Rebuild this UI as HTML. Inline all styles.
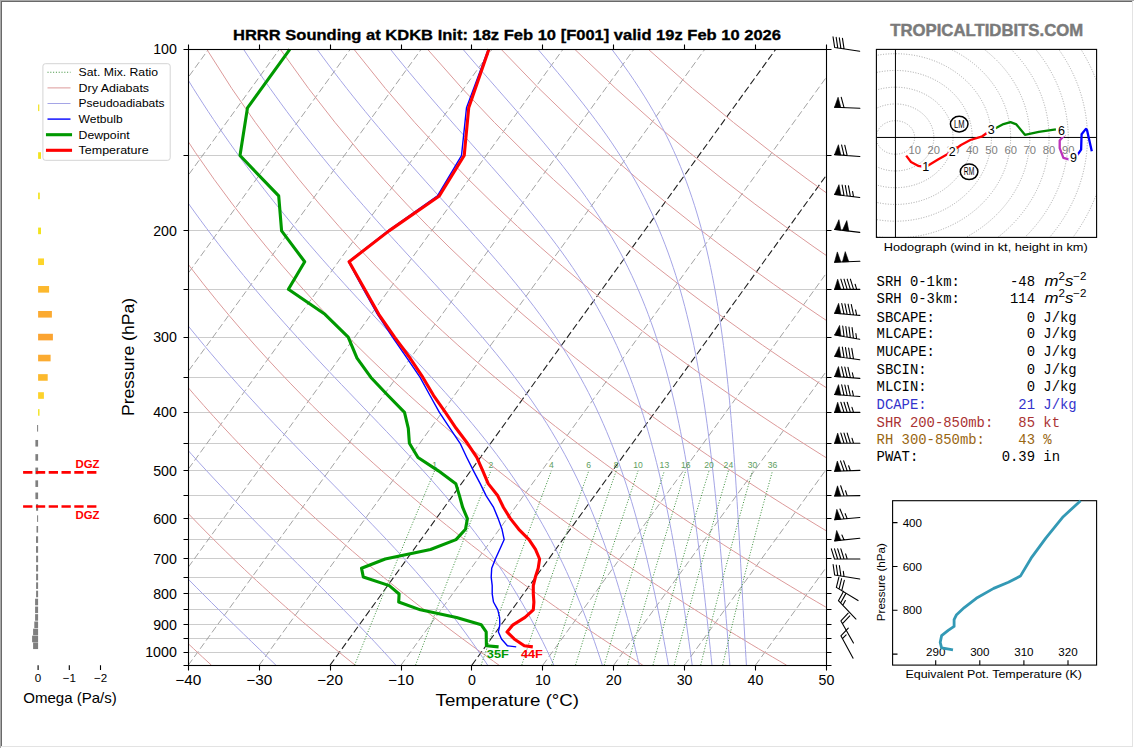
<!DOCTYPE html>
<html><head><meta charset="utf-8"><style>
html,body{margin:0;padding:0;background:#fff;}
#wrap{position:relative;width:1134px;height:748px;overflow:hidden;background:#fff;}
#bt{position:absolute;left:0;top:0;width:1134px;height:1px;background:#a9a9a9}
#bl{position:absolute;left:0;top:0;width:1px;height:748px;background:#a9a9a9}
#bt2{position:absolute;left:1px;top:1px;width:1132px;height:1px;background:#696969}
#bl2{position:absolute;left:1px;top:1px;width:1px;height:746px;background:#696969}
#br{position:absolute;left:1132px;top:1px;width:1px;height:746px;background:#e3e3e3}
#bb{position:absolute;left:1px;top:746px;width:1132px;height:1px;background:#e3e3e3}
svg{position:absolute;left:0;top:0}
</style></head><body><div id="wrap">
<svg width="1134" height="748" viewBox="0 0 1134 748">
<defs><clipPath id="cm"><rect x="188.3" y="49.35" width="638.11" height="615.83"/></clipPath>
<clipPath id="ch"><rect x="876.4" y="49.4" width="220.2" height="188"/></clipPath></defs>
<g clip-path="url(#cm)">
<line x1="188.3" y1="155.5" x2="826.41" y2="155.5" stroke="#cccccc" stroke-width="1"/>
<line x1="188.3" y1="230.5" x2="826.41" y2="230.5" stroke="#cccccc" stroke-width="1"/>
<line x1="188.3" y1="289.5" x2="826.41" y2="289.5" stroke="#cccccc" stroke-width="1"/>
<line x1="188.3" y1="337.5" x2="826.41" y2="337.5" stroke="#cccccc" stroke-width="1"/>
<line x1="188.3" y1="377.5" x2="826.41" y2="377.5" stroke="#cccccc" stroke-width="1"/>
<line x1="188.3" y1="412.5" x2="826.41" y2="412.5" stroke="#cccccc" stroke-width="1"/>
<line x1="188.3" y1="443.5" x2="826.41" y2="443.5" stroke="#cccccc" stroke-width="1"/>
<line x1="188.3" y1="470.5" x2="826.41" y2="470.5" stroke="#cccccc" stroke-width="1"/>
<line x1="188.3" y1="495.5" x2="826.41" y2="495.5" stroke="#cccccc" stroke-width="1"/>
<line x1="188.3" y1="518.5" x2="826.41" y2="518.5" stroke="#cccccc" stroke-width="1"/>
<line x1="188.3" y1="539.5" x2="826.41" y2="539.5" stroke="#cccccc" stroke-width="1"/>
<line x1="188.3" y1="558.5" x2="826.41" y2="558.5" stroke="#cccccc" stroke-width="1"/>
<line x1="188.3" y1="577.5" x2="826.41" y2="577.5" stroke="#cccccc" stroke-width="1"/>
<line x1="188.3" y1="593.5" x2="826.41" y2="593.5" stroke="#cccccc" stroke-width="1"/>
<line x1="188.3" y1="609.5" x2="826.41" y2="609.5" stroke="#cccccc" stroke-width="1"/>
<line x1="188.3" y1="624.5" x2="826.41" y2="624.5" stroke="#cccccc" stroke-width="1"/>
<line x1="188.3" y1="638.5" x2="826.41" y2="638.5" stroke="#cccccc" stroke-width="1"/>
<line x1="188.3" y1="652.5" x2="826.41" y2="652.5" stroke="#cccccc" stroke-width="1"/>
<line x1="-308.01" y1="665.18" x2="137.54" y2="49.35" stroke="#999" stroke-width="0.9" stroke-dasharray="7,3.1"/>
<line x1="-237.11" y1="665.18" x2="208.45" y2="49.35" stroke="#999" stroke-width="0.9" stroke-dasharray="7,3.1"/>
<line x1="-166.2" y1="665.18" x2="279.35" y2="49.35" stroke="#999" stroke-width="0.9" stroke-dasharray="7,3.1"/>
<line x1="-95.3" y1="665.18" x2="350.25" y2="49.35" stroke="#999" stroke-width="0.9" stroke-dasharray="7,3.1"/>
<line x1="-24.4" y1="665.18" x2="421.15" y2="49.35" stroke="#999" stroke-width="0.9" stroke-dasharray="7,3.1"/>
<line x1="46.5" y1="665.18" x2="492.05" y2="49.35" stroke="#999" stroke-width="0.9" stroke-dasharray="7,3.1"/>
<line x1="117.4" y1="665.18" x2="562.95" y2="49.35" stroke="#999" stroke-width="0.9" stroke-dasharray="7,3.1"/>
<line x1="188.3" y1="665.18" x2="633.85" y2="49.35" stroke="#999" stroke-width="0.9" stroke-dasharray="7,3.1"/>
<line x1="259.2" y1="665.18" x2="704.75" y2="49.35" stroke="#999" stroke-width="0.9" stroke-dasharray="7,3.1"/>
<line x1="330.1" y1="665.18" x2="775.65" y2="49.35" stroke="#222" stroke-width="1.1" stroke-dasharray="7,3.1"/>
<line x1="401" y1="665.18" x2="846.55" y2="49.35" stroke="#999" stroke-width="0.9" stroke-dasharray="7,3.1"/>
<line x1="471.9" y1="665.18" x2="917.46" y2="49.35" stroke="#222" stroke-width="1.1" stroke-dasharray="7,3.1"/>
<line x1="542.81" y1="665.18" x2="988.36" y2="49.35" stroke="#999" stroke-width="0.9" stroke-dasharray="7,3.1"/>
<line x1="613.71" y1="665.18" x2="1059.26" y2="49.35" stroke="#999" stroke-width="0.9" stroke-dasharray="7,3.1"/>
<line x1="684.61" y1="665.18" x2="1130.16" y2="49.35" stroke="#999" stroke-width="0.9" stroke-dasharray="7,3.1"/>
<line x1="755.51" y1="665.18" x2="1201.06" y2="49.35" stroke="#999" stroke-width="0.9" stroke-dasharray="7,3.1"/>
<line x1="826.41" y1="665.18" x2="1271.96" y2="49.35" stroke="#999" stroke-width="0.9" stroke-dasharray="7,3.1"/>
<polyline fill="none" stroke="#dc9a9a" stroke-width="1" points="-161.2,49.35 -152.23,88.45 -143.1,122.47 -133.97,152.57 -124.9,179.56 -115.95,204.03 -107.13,226.41 -98.46,247.02 -89.95,266.14 -81.6,283.95 -73.4,300.62 -65.35,316.3 -57.46,331.09 -49.71,345.09 -42.09,358.38 -34.62,371.03 -27.27,383.1 -20.05,394.63 -12.94,405.68 -5.96,416.28 0.92,426.47 7.68,436.27 14.35,445.72 20.91,454.85 27.38,463.66 33.75,472.19 40.04,480.45 46.23,488.46 52.35,496.23 58.38,503.77 64.34,511.11 70.22,518.24 76.02,525.19 81.76,531.96 87.42,538.55 93.02,544.98 98.56,551.26 104.03,557.4 109.44,563.39 114.79,569.25 120.08,574.98 125.32,580.58 130.5,586.07 135.63,591.45 140.71,596.72 145.73,601.88 150.71,606.95 155.64,611.92 160.52,616.79 165.36,621.58 170.15,626.28 174.9,630.9 179.61,635.44 184.27,639.9 188.89,644.29 193.48,648.6 198.02,652.84 202.53,657.02 207,661.13 211.43,665.18"/>
<polyline fill="none" stroke="#dc9a9a" stroke-width="1" points="-87.6,49.35 -75.43,88.45 -63.41,122.47 -51.62,152.57 -40.1,179.56 -28.86,204.03 -17.9,226.41 -7.21,247.02 3.21,266.14 13.39,283.95 23.33,300.62 33.04,316.3 42.53,331.09 51.81,345.09 60.9,358.38 69.81,371.03 78.54,383.1 87.09,394.63 95.49,405.68 103.73,416.28 111.83,426.47 119.78,436.27 127.61,445.72 135.3,454.85 142.87,463.66 150.32,472.19 157.65,480.45 164.88,488.46 172,496.23 179.02,503.77 185.94,511.11 192.77,518.24 199.5,525.19 206.15,531.96 212.71,538.55 219.19,544.98 225.59,551.26 231.91,557.4 238.16,563.39 244.33,569.25 250.43,574.98 256.47,580.58 262.44,586.07 268.34,591.45 274.18,596.72 279.96,601.88 285.68,606.95 291.34,611.92 296.94,616.79 302.49,621.58 307.98,626.28 313.43,630.9 318.82,635.44 324.16,639.9 329.45,644.29 334.69,648.6 339.89,652.84 345.04,657.02 350.15,661.13 355.22,665.18"/>
<polyline fill="none" stroke="#dc9a9a" stroke-width="1" points="-14,49.35 1.37,88.45 16.28,122.47 30.72,152.57 44.69,179.56 58.22,204.03 71.32,226.41 84.04,247.02 96.38,266.14 108.38,283.95 120.05,300.62 131.43,316.3 142.51,331.09 153.33,345.09 163.9,358.38 174.23,371.03 184.34,383.1 194.23,394.63 203.92,405.68 213.42,416.28 222.74,426.47 231.89,436.27 240.87,445.72 249.69,454.85 258.36,463.66 266.89,472.19 275.27,480.45 283.53,488.46 291.66,496.23 299.66,503.77 307.55,511.11 315.32,518.24 322.99,525.19 330.54,531.96 338,538.55 345.36,544.98 352.62,551.26 359.8,557.4 366.88,563.39 373.87,569.25 380.79,574.98 387.62,580.58 394.37,586.07 401.05,591.45 407.65,596.72 414.18,601.88 420.64,606.95 427.03,611.92 433.36,616.79 439.62,621.58 445.81,626.28 451.95,630.9 458.03,635.44 464.04,639.9 470.01,644.29 475.91,648.6 481.76,652.84 487.56,657.02 493.31,661.13 499,665.18"/>
<polyline fill="none" stroke="#dc9a9a" stroke-width="1" points="59.6,49.35 78.17,88.45 95.97,122.47 113.06,152.57 129.49,179.56 145.3,204.03 160.55,226.41 175.29,247.02 189.55,266.14 203.37,283.95 216.78,300.62 229.82,316.3 242.5,331.09 254.85,345.09 266.9,358.38 278.66,371.03 290.14,383.1 301.37,394.63 312.36,405.68 323.11,416.28 333.65,426.47 343.99,436.27 354.13,445.72 364.08,454.85 373.85,463.66 383.45,472.19 392.89,480.45 402.18,488.46 411.31,496.23 420.3,503.77 429.15,511.11 437.88,518.24 446.47,525.19 454.94,531.96 463.29,538.55 471.53,544.98 479.66,551.26 487.68,557.4 495.6,563.39 503.42,569.25 511.14,574.98 518.77,580.58 526.31,586.07 533.76,591.45 541.12,596.72 548.4,601.88 555.6,606.95 562.73,611.92 569.77,616.79 576.74,621.58 583.65,626.28 590.48,630.9 597.24,635.44 603.93,639.9 610.56,644.29 617.13,648.6 623.63,652.84 630.08,657.02 636.46,661.13 642.79,665.18"/>
<polyline fill="none" stroke="#dc9a9a" stroke-width="1" points="133.2,49.35 154.97,88.45 175.67,122.47 195.41,152.57 214.28,179.56 232.38,204.03 249.78,226.41 266.54,247.02 282.72,266.14 298.36,283.95 313.51,300.62 328.21,316.3 342.49,331.09 356.37,345.09 369.9,358.38 383.08,371.03 395.95,383.1 408.51,394.63 420.79,405.68 432.81,416.28 444.57,426.47 456.09,436.27 467.39,445.72 478.47,454.85 489.34,463.66 500.02,472.19 510.51,480.45 520.82,488.46 530.96,496.23 540.94,503.77 550.76,511.11 560.43,518.24 569.95,525.19 579.33,531.96 588.58,538.55 597.7,544.98 606.69,551.26 615.56,557.4 624.32,563.39 632.96,569.25 641.49,574.98 649.92,580.58 658.24,586.07 666.46,591.45 674.59,596.72 682.62,601.88 690.57,606.95 698.42,611.92 706.19,616.79 713.87,621.58 721.48,626.28 729,630.9 736.45,635.44 743.82,639.9 751.12,644.29 758.35,648.6 765.5,652.84 772.59,657.02 779.62,661.13 786.57,665.18"/>
<polyline fill="none" stroke="#dc9a9a" stroke-width="1" points="206.8,49.35 231.76,88.45 255.36,122.47 277.75,152.57 299.08,179.56 319.47,204.03 339.01,226.41 357.79,247.02 375.88,266.14 393.35,283.95 410.24,300.62 426.6,316.3 442.47,331.09 457.89,345.09 472.9,358.38 487.51,371.03 501.75,383.1 515.65,394.63 529.22,405.68 542.5,416.28 555.48,426.47 568.19,436.27 580.65,445.72 592.86,454.85 604.83,463.66 616.59,472.19 628.13,480.45 639.47,488.46 650.62,496.23 661.58,503.77 672.37,511.11 682.98,518.24 693.43,525.19 703.73,531.96 713.87,538.55 723.87,544.98 733.73,551.26 743.45,557.4 753.04,563.39 762.5,569.25 771.84,574.98 781.07,580.58 790.17,586.07 799.17,591.45 808.06,596.72 816.85,601.88 825.53,606.95 834.12,611.92 842.61,616.79 851,621.58 859.31,626.28 867.53,630.9 875.66,635.44 883.71,639.9 891.67,644.29 899.56,648.6 907.37,652.84 915.11,657.02 922.77,661.13 930.36,665.18"/>
<polyline fill="none" stroke="#dc9a9a" stroke-width="1" points="280.4,49.35 308.56,88.45 335.05,122.47 360.09,152.57 383.88,179.56 406.55,204.03 428.24,226.41 449.04,247.02 469.05,266.14 488.34,283.95 506.96,300.62 524.99,316.3 542.46,331.09 559.41,345.09 575.89,358.38 591.93,371.03 607.55,383.1 622.79,394.63 637.66,405.68 652.19,416.28 666.39,426.47 680.29,436.27 693.91,445.72 707.24,454.85 720.32,463.66 733.15,472.19 745.75,480.45 758.12,488.46 770.27,496.23 782.22,503.77 793.97,511.11 805.54,518.24 816.92,525.19 828.12,531.96 839.16,538.55 850.04,544.98 860.76,551.26 871.33,557.4 881.76,563.39 892.04,569.25 902.19,574.98 912.21,580.58 922.11,586.07 931.88,591.45 941.53,596.72 951.07,601.88 960.49,606.95 969.81,611.92 979.02,616.79 988.13,621.58 997.14,626.28 1006.05,630.9 1014.87,635.44 1023.59,639.9 1032.23,644.29 1040.78,648.6 1049.24,652.84 1057.63,657.02 1065.93,661.13 1074.15,665.18"/>
<polyline fill="none" stroke="#dc9a9a" stroke-width="1" points="354,49.35 385.36,88.45 414.74,122.47 442.44,152.57 468.67,179.56 493.63,204.03 517.46,226.41 540.29,247.02 562.22,266.14 583.33,283.95 603.69,300.62 623.38,316.3 642.44,331.09 660.93,345.09 678.89,358.38 696.35,371.03 713.36,383.1 729.93,394.63 746.09,405.68 761.88,416.28 777.31,426.47 792.4,436.27 807.17,445.72 821.63,454.85 835.81,463.66 849.72,472.19 863.37,480.45 876.77,488.46 889.93,496.23 902.86,503.77 915.58,511.11 928.09,518.24 940.4,525.19 952.52,531.96 964.45,538.55 976.21,544.98 987.79,551.26 999.21,557.4 1010.48,563.39 1021.59,569.25 1032.55,574.98 1043.36,580.58 1054.04,586.07 1064.59,591.45 1075,596.72 1085.29,601.88 1095.46,606.95 1105.51,611.92 1115.44,616.79 1125.26,621.58 1134.97,626.28 1144.58,630.9 1154.08,635.44 1163.48,639.9 1172.79,644.29 1182,648.6 1191.11,652.84 1200.14,657.02 1209.08,661.13 1217.93,665.18"/>
<polyline fill="none" stroke="#dc9a9a" stroke-width="1" points="427.6,49.35 462.16,88.45 494.43,122.47 524.78,152.57 553.47,179.56 580.72,204.03 606.69,226.41 631.54,247.02 655.38,266.14 678.31,283.95 700.42,300.62 721.77,316.3 742.43,331.09 762.45,345.09 781.89,358.38 800.78,371.03 819.16,383.1 837.06,394.63 854.52,405.68 871.57,416.28 888.22,426.47 904.5,436.27 920.43,445.72 936.02,454.85 951.31,463.66 966.29,472.19 980.99,480.45 995.41,488.46 1009.58,496.23 1023.5,503.77 1037.19,511.11 1050.64,518.24 1063.88,525.19 1076.91,531.96 1089.74,538.55 1102.38,544.98 1114.83,551.26 1127.1,557.4 1139.2,563.39 1151.13,569.25 1162.9,574.98 1174.51,580.58 1185.98,586.07 1197.3,591.45 1208.47,596.72 1219.51,601.88 1230.42,606.95 1241.2,611.92 1251.85,616.79 1262.39,621.58 1272.8,626.28 1283.1,630.9 1293.29,635.44 1303.37,639.9 1313.34,644.29 1323.21,648.6 1332.98,652.84 1342.66,657.02 1352.24,661.13 1361.72,665.18"/>
<polyline fill="none" stroke="#dc9a9a" stroke-width="1" points="501.2,49.35 538.95,88.45 574.12,122.47 607.12,152.57 638.26,179.56 667.8,204.03 695.92,226.41 722.79,247.02 748.55,266.14 773.3,283.95 797.15,300.62 820.16,316.3 842.42,331.09 863.97,345.09 884.89,358.38 905.2,371.03 924.96,383.1 944.2,394.63 962.96,405.68 981.26,416.28 999.13,426.47 1016.6,436.27 1033.69,445.72 1050.41,454.85 1066.8,463.66 1082.86,472.19 1098.61,480.45 1114.06,488.46 1129.24,496.23 1144.14,503.77 1158.79,511.11 1173.19,518.24 1187.36,525.19 1201.31,531.96 1215.03,538.55 1228.55,544.98 1241.86,551.26 1254.98,557.4 1267.92,563.39 1280.67,569.25 1293.25,574.98 1305.66,580.58 1317.91,586.07 1330,591.45 1341.94,596.72 1353.74,601.88 1365.38,606.95 1376.9,611.92 1388.27,616.79 1399.52,621.58 1410.63,626.28 1421.63,630.9 1432.5,635.44 1443.26,639.9 1453.9,644.29 1464.43,648.6 1474.86,652.84 1485.17,657.02 1495.39,661.13 1505.51,665.18"/>
<polyline fill="none" stroke="#dc9a9a" stroke-width="1" points="574.8,49.35 615.75,88.45 653.82,122.47 689.47,152.57 723.06,179.56 754.88,204.03 785.15,226.41 814.04,247.02 841.72,266.14 868.29,283.95 893.87,300.62 918.55,316.3 942.4,331.09 965.49,345.09 987.88,358.38 1009.63,371.03 1030.77,383.1 1051.34,394.63 1071.39,405.68 1090.95,416.28 1110.04,426.47 1128.7,436.27 1146.95,445.72 1164.8,454.85 1182.29,463.66 1199.42,472.19 1216.22,480.45 1232.71,488.46 1248.89,496.23 1264.78,503.77 1280.4,511.11 1295.75,518.24 1310.85,525.19 1325.7,531.96 1340.32,538.55 1354.71,544.98 1368.89,551.26 1382.87,557.4 1396.64,563.39 1410.21,569.25 1423.6,574.98 1436.81,580.58 1449.85,586.07 1462.71,591.45 1475.41,596.72 1487.96,601.88 1500.35,606.95 1512.59,611.92 1524.69,616.79 1536.64,621.58 1548.46,626.28 1560.15,630.9 1571.71,635.44 1583.14,639.9 1594.46,644.29 1605.65,648.6 1616.73,652.84 1627.69,657.02 1638.54,661.13 1649.29,665.18"/>
<polyline fill="none" stroke="#dc9a9a" stroke-width="1" points="648.4,49.35 692.55,88.45 733.51,122.47 771.81,152.57 807.86,179.56 841.96,204.03 874.38,226.41 905.3,247.02 934.89,266.14 963.28,283.95 990.6,300.62 1016.94,316.3 1042.39,331.09 1067.01,345.09 1090.88,358.38 1114.05,371.03 1136.57,383.1 1158.48,394.63 1179.83,405.68 1200.64,416.28 1220.96,426.47 1240.8,436.27 1260.21,445.72 1279.19,454.85 1297.78,463.66 1315.99,472.19 1333.84,480.45 1351.36,488.46 1368.54,496.23 1385.42,503.77 1402,511.11 1418.3,518.24 1434.33,525.19 1450.09,531.96 1465.61,538.55 1480.88,544.98 1495.93,551.26 1510.75,557.4 1525.36,563.39 1539.75,569.25 1553.95,574.98 1567.96,580.58 1581.78,586.07 1595.42,591.45 1608.88,596.72 1622.18,601.88 1635.31,606.95 1648.28,611.92 1661.1,616.79 1673.77,621.58 1686.29,626.28 1698.68,630.9 1710.92,635.44 1723.03,639.9 1735.01,644.29 1746.87,648.6 1758.6,652.84 1770.21,657.02 1781.7,661.13 1793.08,665.18"/>
<polyline fill="none" stroke="#a5a5e6" stroke-width="1" points="275.94,665.18 267.85,657.38 259.76,649.59 251.68,641.79 243.62,634 235.6,626.2 227.61,618.41 219.67,610.61 211.78,602.82 203.96,595.02 196.21,587.23 188.53,579.43 180.93,571.63 173.41,563.84 165.97,556.04 158.63,548.25 151.38,540.45 144.22,532.66 137.15,524.86 130.18,517.07 123.31,509.27 116.53,501.48 109.86,493.68 103.28,485.89 96.8,478.09 90.41,470.3 84.13,462.5 77.95,454.71 71.86,446.91 65.87,439.11 59.97,431.32 54.18,423.52 48.47,415.73 42.87,407.93 37.35,400.14 31.94,392.34 26.61,384.55 21.38,376.75 16.23,368.96 11.18,361.16 6.22,353.37 1.35,345.57 -3.43,337.78 -8.13,329.98 -12.74,322.19 -17.26,314.39 -21.7,306.59 -26.05,298.8 -30.31,291 -34.5,283.21 -38.6,275.41 -42.61,267.62 -46.55,259.82 -50.41,252.03 -54.18,244.23 -57.88,236.44 -61.5,228.64 -65.04,220.85 -68.5,213.05 -68.49,205.26 -62.85,197.46 -57.21,189.67 -51.57,181.87 -45.93,174.07 -40.29,166.28 -34.65,158.48 -29.01,150.69 -23.37,142.89 -17.73,135.1 -12.09,127.3 -6.45,119.51 -0.81,111.71 4.83,103.92 10.47,96.12 16.11,88.33 21.75,80.53 27.39,72.74 33.03,64.94 38.67,57.15 44.31,49.35"/>
<polyline fill="none" stroke="#a5a5e6" stroke-width="1" points="395.9,665.18 388.89,657.38 381.76,649.59 374.51,641.79 367.14,634 359.67,626.2 352.11,618.41 344.46,610.61 336.75,602.82 328.98,595.02 321.17,587.23 313.32,579.43 305.46,571.63 297.59,563.84 289.73,556.04 281.88,548.25 274.06,540.45 266.27,532.66 258.53,524.86 250.84,517.07 243.21,509.27 235.65,501.48 228.16,493.68 220.74,485.89 213.41,478.09 206.16,470.3 198.99,462.5 191.92,454.71 184.94,446.91 178.05,439.11 171.26,431.32 164.56,423.52 157.96,415.73 151.45,407.93 145.04,400.14 138.73,392.34 132.52,384.55 126.4,376.75 120.38,368.96 114.46,361.16 108.63,353.37 102.9,345.57 97.27,337.78 91.72,329.98 86.28,322.19 80.92,314.39 75.66,306.59 70.48,298.8 65.4,291 60.41,283.21 55.51,275.41 50.7,267.62 45.98,259.82 41.34,252.03 36.79,244.23 32.33,236.44 27.95,228.64 23.65,220.85 19.44,213.05 15.32,205.26 11.27,197.46 7.31,189.67 3.43,181.87 -0.37,174.07 -4.1,166.28 -7.74,158.48 -11.3,150.69 -14.79,142.89 -17.73,135.1 -12.09,127.3 -6.45,119.51 -0.81,111.71 4.83,103.92 10.47,96.12 16.11,88.33 21.75,80.53 27.39,72.74 33.03,64.94 38.67,57.15 44.31,49.35"/>
<polyline fill="none" stroke="#a5a5e6" stroke-width="1" points="487.68,665.18 482.55,657.38 477.27,649.59 471.84,641.79 466.25,634 460.5,626.2 454.59,618.41 448.53,610.61 442.3,602.82 435.93,595.02 429.4,587.23 422.72,579.43 415.9,571.63 408.95,563.84 401.87,556.04 394.68,548.25 387.39,540.45 380,532.66 372.54,524.86 365,517.07 357.42,509.27 349.79,501.48 342.13,493.68 334.47,485.89 326.79,478.09 319.13,470.3 311.49,462.5 303.88,454.71 296.31,446.91 288.79,439.11 281.32,431.32 273.92,423.52 266.58,415.73 259.32,407.93 252.14,400.14 245.04,392.34 238.02,384.55 231.1,376.75 224.26,368.96 217.52,361.16 210.86,353.37 204.31,345.57 197.85,337.78 191.48,329.98 185.21,322.19 179.04,314.39 172.96,306.59 166.98,298.8 161.09,291 155.3,283.21 149.6,275.41 144,267.62 138.49,259.82 133.08,252.03 127.76,244.23 122.53,236.44 117.39,228.64 112.34,220.85 107.38,213.05 102.51,205.26 97.73,197.46 93.04,189.67 88.44,181.87 83.92,174.07 79.48,166.28 75.14,158.48 70.87,150.69 66.69,142.89 62.59,135.1 58.58,127.3 54.65,119.51 50.79,111.71 47.02,103.92 43.33,96.12 39.71,88.33 36.18,80.53 32.72,72.74 33.03,64.94 38.67,57.15 44.31,49.35"/>
<polyline fill="none" stroke="#a5a5e6" stroke-width="1" points="553.86,665.18 550.28,657.38 546.59,649.59 542.79,641.79 538.87,634 534.84,626.2 530.67,618.41 526.37,610.61 521.93,602.82 517.35,595.02 512.62,587.23 507.74,579.43 502.7,571.63 497.5,563.84 492.14,556.04 486.62,548.25 480.93,540.45 475.08,532.66 469.06,524.86 462.89,517.07 456.55,509.27 450.07,501.48 443.44,493.68 436.67,485.89 429.77,478.09 422.76,470.3 415.64,462.5 408.42,454.71 401.13,446.91 393.77,439.11 386.35,431.32 378.9,423.52 371.42,415.73 363.92,407.93 356.43,400.14 348.95,392.34 341.49,384.55 334.06,376.75 326.67,368.96 319.34,361.16 312.06,353.37 304.85,345.57 297.71,337.78 290.64,329.98 283.65,322.19 276.74,314.39 269.92,306.59 263.19,298.8 256.55,291 250,283.21 243.54,275.41 237.18,267.62 230.91,259.82 224.74,252.03 218.66,244.23 212.68,236.44 206.79,228.64 201,220.85 195.3,213.05 189.69,205.26 184.18,197.46 178.76,189.67 173.44,181.87 168.2,174.07 163.06,166.28 158.01,158.48 153.04,150.69 148.17,142.89 143.39,135.1 138.69,127.3 134.08,119.51 129.56,111.71 125.12,103.92 120.77,96.12 116.5,88.33 112.31,80.53 108.21,72.74 104.19,64.94 100.26,57.15 96.4,49.35"/>
<polyline fill="none" stroke="#a5a5e6" stroke-width="1" points="602.34,665.18 599.81,657.38 597.2,649.59 594.53,641.79 591.78,634 588.95,626.2 586.03,618.41 583.03,610.61 579.94,602.82 576.75,595.02 573.46,587.23 570.06,579.43 566.54,571.63 562.91,563.84 559.15,556.04 555.27,548.25 551.25,540.45 547.09,532.66 542.78,524.86 538.33,517.07 533.71,509.27 528.94,501.48 524.01,493.68 518.91,485.89 513.64,478.09 508.2,470.3 502.6,462.5 496.82,454.71 490.87,446.91 484.77,439.11 478.5,431.32 472.08,423.52 465.52,415.73 458.82,407.93 452,400.14 445.07,392.34 438.04,384.55 430.92,376.75 423.73,368.96 416.49,361.16 409.2,353.37 401.88,345.57 394.55,337.78 387.21,329.98 379.88,322.19 372.58,314.39 365.31,306.59 358.07,298.8 350.89,291 343.77,283.21 336.71,275.41 329.71,267.62 322.8,259.82 315.96,252.03 309.2,244.23 302.53,236.44 295.95,228.64 289.45,220.85 283.05,213.05 276.74,205.26 270.52,197.46 264.4,189.67 258.37,181.87 252.43,174.07 246.59,166.28 240.84,158.48 235.19,150.69 229.63,142.89 224.16,135.1 218.79,127.3 213.5,119.51 208.31,111.71 203.21,103.92 198.2,96.12 193.28,88.33 188.45,80.53 183.71,72.74 179.05,64.94 174.48,57.15 170,49.35"/>
<polyline fill="none" stroke="#a5a5e6" stroke-width="1" points="639.27,665.18 637.42,657.38 635.52,649.59 633.59,641.79 631.61,634 629.58,626.2 627.5,618.41 625.37,610.61 623.18,602.82 620.93,595.02 618.61,587.23 616.22,579.43 613.77,571.63 611.23,563.84 608.61,556.04 605.91,548.25 603.11,540.45 600.23,532.66 597.24,524.86 594.14,517.07 590.93,509.27 587.61,501.48 584.17,493.68 580.59,485.89 576.88,478.09 573.04,470.3 569.05,462.5 564.91,454.71 560.61,446.91 556.15,439.11 551.53,431.32 546.74,423.52 541.78,415.73 536.64,407.93 531.33,400.14 525.85,392.34 520.19,384.55 514.36,376.75 508.37,368.96 502.21,361.16 495.9,353.37 489.44,345.57 482.86,337.78 476.14,329.98 469.32,322.19 462.4,314.39 455.4,306.59 448.34,298.8 441.22,291 434.06,283.21 426.88,275.41 419.68,267.62 412.5,259.82 405.32,252.03 398.18,244.23 391.06,236.44 384,228.64 376.99,220.85 370.03,213.05 363.15,205.26 356.34,197.46 349.6,189.67 342.94,181.87 336.37,174.07 329.88,166.28 323.49,158.48 317.18,150.69 310.96,142.89 304.84,135.1 298.8,127.3 292.86,119.51 287.02,111.71 281.27,103.92 275.61,96.12 270.04,88.33 264.57,80.53 259.19,72.74 253.9,64.94 248.7,57.15 243.59,49.35"/>
<polyline fill="none" stroke="#a5a5e6" stroke-width="1" points="668.44,665.18 667.05,657.38 665.64,649.59 664.21,641.79 662.75,634 661.26,626.2 659.75,618.41 658.2,610.61 656.61,602.82 654.99,595.02 653.32,587.23 651.62,579.43 649.87,571.63 648.07,563.84 646.22,556.04 644.31,548.25 642.35,540.45 640.33,532.66 638.24,524.86 636.08,517.07 633.85,509.27 631.54,501.48 629.15,493.68 626.68,485.89 624.11,478.09 621.45,470.3 618.69,462.5 615.82,454.71 612.84,446.91 609.74,439.11 606.52,431.32 603.17,423.52 599.68,415.73 596.06,407.93 592.29,400.14 588.36,392.34 584.28,384.55 580.03,376.75 575.62,368.96 571.04,361.16 566.28,353.37 561.34,345.57 556.22,337.78 550.93,329.98 545.46,322.19 539.81,314.39 533.98,306.59 528,298.8 521.85,291 515.56,283.21 509.12,275.41 502.56,267.62 495.89,259.82 489.11,252.03 482.25,244.23 475.32,236.44 468.34,228.64 461.32,220.85 454.27,213.05 447.21,205.26 440.15,197.46 433.11,189.67 426.09,181.87 419.11,174.07 412.18,166.28 405.3,158.48 398.47,150.69 391.72,142.89 385.04,135.1 378.43,127.3 371.91,119.51 365.46,111.71 359.11,103.92 352.84,96.12 346.66,88.33 340.57,80.53 334.58,72.74 328.67,64.94 322.86,57.15 317.14,49.35"/>
<polyline fill="none" stroke="#a5a5e6" stroke-width="1" points="692.18,665.18 691.12,657.38 690.06,649.59 688.98,641.79 687.88,634 686.78,626.2 685.65,618.41 684.5,610.61 683.34,602.82 682.15,595.02 680.94,587.23 679.7,579.43 678.44,571.63 677.15,563.84 675.82,556.04 674.46,548.25 673.07,540.45 671.63,532.66 670.16,524.86 668.64,517.07 667.07,509.27 665.46,501.48 663.79,493.68 662.07,485.89 660.28,478.09 658.44,470.3 656.52,462.5 654.54,454.71 652.48,446.91 650.35,439.11 648.13,431.32 645.82,423.52 643.42,415.73 640.92,407.93 638.32,400.14 635.6,392.34 632.78,384.55 629.83,376.75 626.76,368.96 623.55,361.16 620.21,353.37 616.72,345.57 613.08,337.78 609.28,329.98 605.32,322.19 601.19,314.39 596.89,306.59 592.42,298.8 587.76,291 582.93,283.21 577.91,275.41 572.7,267.62 567.32,259.82 561.75,252.03 556.01,244.23 550.11,236.44 544.04,228.64 537.83,220.85 531.48,213.05 525,205.26 518.41,197.46 511.73,189.67 504.97,181.87 498.13,174.07 491.26,166.28 484.34,158.48 477.41,150.69 470.47,142.89 463.54,135.1 456.63,127.3 449.75,119.51 442.9,111.71 436.11,103.92 429.38,96.12 422.71,88.33 416.11,80.53 409.58,72.74 403.13,64.94 396.76,57.15 390.48,49.35"/>
<polyline fill="none" stroke="#a5a5e6" stroke-width="1" points="711.98,665.18 711.16,657.38 710.35,649.59 709.52,641.79 708.7,634 707.86,626.2 707.02,618.41 706.16,610.61 705.3,602.82 704.43,595.02 703.54,587.23 702.64,579.43 701.72,571.63 700.79,563.84 699.83,556.04 698.86,548.25 697.86,540.45 696.85,532.66 695.8,524.86 694.73,517.07 693.63,509.27 692.5,501.48 691.33,493.68 690.13,485.89 688.89,478.09 687.61,470.3 686.28,462.5 684.91,454.71 683.49,446.91 682.02,439.11 680.5,431.32 678.91,423.52 677.26,415.73 675.55,407.93 673.77,400.14 671.91,392.34 669.97,384.55 667.96,376.75 665.85,368.96 663.65,361.16 661.36,353.37 658.96,345.57 656.45,337.78 653.83,329.98 651.09,322.19 648.23,314.39 645.23,306.59 642.09,298.8 638.81,291 635.37,283.21 631.78,275.41 628.03,267.62 624.11,259.82 620.01,252.03 615.73,244.23 611.27,236.44 606.63,228.64 601.8,220.85 596.78,213.05 591.58,205.26 586.19,197.46 580.63,189.67 574.89,181.87 568.99,174.07 562.93,166.28 556.73,158.48 550.39,150.69 543.94,142.89 537.39,135.1 530.76,127.3 524.05,119.51 517.3,111.71 510.5,103.92 503.68,96.12 496.85,88.33 490.03,80.53 483.23,72.74 476.45,64.94 469.72,57.15 463.03,49.35"/>
<polyline fill="none" stroke="#a5a5e6" stroke-width="1" points="729.89,665.18 729.27,657.38 728.65,649.59 728.04,641.79 727.42,634 726.8,626.2 726.18,618.41 725.56,610.61 724.94,602.82 724.31,595.02 723.67,587.23 723.03,579.43 722.39,571.63 721.73,563.84 721.07,556.04 720.39,548.25 719.71,540.45 719.01,532.66 718.3,524.86 717.57,517.07 716.82,509.27 716.06,501.48 715.27,493.68 714.47,485.89 713.64,478.09 712.78,470.3 711.9,462.5 710.99,454.71 710.05,446.91 709.07,439.11 708.06,431.32 707.02,423.52 705.93,415.73 704.8,407.93 703.63,400.14 702.4,392.34 701.13,384.55 699.8,376.75 698.41,368.96 696.97,361.16 695.46,353.37 693.88,345.57 692.22,337.78 690.49,329.98 688.68,322.19 686.78,314.39 684.8,306.59 682.71,298.8 680.53,291 678.23,283.21 675.83,275.41 673.3,267.62 670.65,259.82 667.87,252.03 664.95,244.23 661.89,236.44 658.68,228.64 655.3,220.85 651.77,213.05 648.07,205.26 644.19,197.46 640.13,189.67 635.88,181.87 631.45,174.07 626.83,166.28 622.02,158.48 617.02,150.69 611.83,142.89 606.45,135.1 600.9,127.3 595.17,119.51 589.29,111.71 583.25,103.92 577.07,96.12 570.77,88.33 564.37,80.53 557.87,72.74 551.3,64.94 544.66,57.15 537.99,49.35"/>
<polyline fill="none" stroke="#a5a5e6" stroke-width="1" points="746.41,665.18 745.94,657.38 745.49,649.59 745.04,641.79 744.59,634 744.15,626.2 743.71,618.41 743.28,610.61 742.85,602.82 742.42,595.02 741.99,587.23 741.56,579.43 741.13,571.63 740.7,563.84 740.26,556.04 739.82,548.25 739.38,540.45 738.94,532.66 738.48,524.86 738.02,517.07 737.55,509.27 737.08,501.48 736.59,493.68 736.09,485.89 735.58,478.09 735.06,470.3 734.51,462.5 733.96,454.71 733.38,446.91 732.79,439.11 732.17,431.32 731.53,423.52 730.87,415.73 730.18,407.93 729.47,400.14 728.72,392.34 727.94,384.55 727.13,376.75 726.28,368.96 725.39,361.16 724.46,353.37 723.49,345.57 722.47,337.78 721.4,329.98 720.28,322.19 719.1,314.39 717.86,306.59 716.56,298.8 715.19,291 713.76,283.21 712.24,275.41 710.65,267.62 708.98,259.82 707.21,252.03 705.36,244.23 703.4,236.44 701.34,228.64 699.17,220.85 696.88,213.05 694.47,205.26 691.93,197.46 689.26,189.67 686.44,181.87 683.48,174.07 680.36,166.28 677.07,158.48 673.62,150.69 670,142.89 666.19,135.1 662.2,127.3 658.02,119.51 653.65,111.71 649.08,103.92 644.32,96.12 639.36,88.33 634.21,80.53 628.88,72.74 623.37,64.94 617.69,57.15 611.85,49.35"/>
<polyline fill="none" stroke="#3a8f3a" stroke-width="1" stroke-dasharray="1,1.75" points="354.59,665.18 356.91,659.4 359.27,653.49 361.7,647.44 364.19,641.25 366.74,634.91 369.36,628.42 372.06,621.76 374.83,614.92 377.68,607.9 380.62,600.69 383.65,593.28 386.77,585.64 389.99,577.78 393.32,569.68 396.77,561.31 400.34,552.68 404.04,543.74 407.88,534.49 411.87,524.9 416.03,514.95 420.36,504.61 424.88,493.83 429.62,482.6 434.58,470.86"/>
<polyline fill="none" stroke="#3a8f3a" stroke-width="1" stroke-dasharray="1,1.75" points="415.51,665.18 417.68,659.4 419.9,653.49 422.18,647.44 424.51,641.25 426.91,634.91 429.37,628.42 431.91,621.76 434.51,614.92 437.19,607.9 439.96,600.69 442.81,593.28 445.75,585.64 448.78,577.78 451.92,569.68 455.17,561.31 458.54,552.68 462.03,543.74 465.66,534.49 469.43,524.9 473.36,514.95 477.45,504.61 481.74,493.83 486.22,482.6 490.91,470.86"/>
<polyline fill="none" stroke="#3a8f3a" stroke-width="1" stroke-dasharray="1,1.75" points="481.07,665.18 483.07,659.4 485.13,653.49 487.24,647.44 489.4,641.25 491.63,634.91 493.91,628.42 496.27,621.76 498.69,614.92 501.18,607.9 503.75,600.69 506.4,593.28 509.13,585.64 511.96,577.78 514.89,569.68 517.92,561.31 521.06,552.68 524.32,543.74 527.71,534.49 531.23,524.9 534.91,514.95 538.74,504.61 542.75,493.83 546.95,482.6 551.36,470.86"/>
<polyline fill="none" stroke="#3a8f3a" stroke-width="1" stroke-dasharray="1,1.75" points="521.72,665.18 523.62,659.4 525.57,653.49 527.58,647.44 529.63,641.25 531.75,634.91 533.92,628.42 536.15,621.76 538.46,614.92 540.83,607.9 543.27,600.69 545.8,593.28 548.4,585.64 551.1,577.78 553.89,569.68 556.78,561.31 559.77,552.68 562.89,543.74 566.12,534.49 569.49,524.9 573,514.95 576.67,504.61 580.51,493.83 584.53,482.6 588.75,470.86"/>
<polyline fill="none" stroke="#3a8f3a" stroke-width="1" stroke-dasharray="1,1.75" points="551.64,665.18 553.47,659.4 555.34,653.49 557.26,647.44 559.23,641.25 561.26,634.91 563.35,628.42 565.5,621.76 567.71,614.92 569.99,607.9 572.35,600.69 574.77,593.28 577.28,585.64 579.88,577.78 582.57,569.68 585.35,561.31 588.24,552.68 591.24,543.74 594.36,534.49 597.61,524.9 601.01,514.95 604.55,504.61 608.26,493.83 612.14,482.6 616.23,470.86"/>
<polyline fill="none" stroke="#3a8f3a" stroke-width="1" stroke-dasharray="1,1.75" points="575.48,665.18 577.24,659.4 579.05,653.49 580.9,647.44 582.81,641.25 584.77,634.91 586.79,628.42 588.87,621.76 591.01,614.92 593.22,607.9 595.49,600.69 597.85,593.28 600.28,585.64 602.79,577.78 605.4,569.68 608.1,561.31 610.9,552.68 613.81,543.74 616.84,534.49 620,524.9 623.29,514.95 626.73,504.61 630.33,493.83 634.11,482.6 638.08,470.86"/>
<polyline fill="none" stroke="#3a8f3a" stroke-width="1" stroke-dasharray="1,1.75" points="604.2,665.18 605.89,659.4 607.62,653.49 609.4,647.44 611.22,641.25 613.1,634.91 615.04,628.42 617.03,621.76 619.08,614.92 621.2,607.9 623.38,600.69 625.64,593.28 627.98,585.64 630.39,577.78 632.9,569.68 635.49,561.31 638.19,552.68 640.99,543.74 643.91,534.49 646.95,524.9 650.12,514.95 653.44,504.61 656.92,493.83 660.56,482.6 664.4,470.86"/>
<polyline fill="none" stroke="#3a8f3a" stroke-width="1" stroke-dasharray="1,1.75" points="627.47,665.18 629.09,659.4 630.76,653.49 632.47,647.44 634.23,641.25 636.05,634.91 637.91,628.42 639.83,621.76 641.81,614.92 643.86,607.9 645.97,600.69 648.15,593.28 650.4,585.64 652.74,577.78 655.16,569.68 657.67,561.31 660.28,552.68 662.99,543.74 665.82,534.49 668.76,524.9 671.84,514.95 675.06,504.61 678.43,493.83 681.96,482.6 685.68,470.86"/>
<polyline fill="none" stroke="#3a8f3a" stroke-width="1" stroke-dasharray="1,1.75" points="653,665.18 654.55,659.4 656.14,653.49 657.78,647.44 659.47,641.25 661.21,634.91 663,628.42 664.84,621.76 666.74,614.92 668.7,607.9 670.73,600.69 672.82,593.28 674.99,585.64 677.24,577.78 679.57,569.68 681.98,561.31 684.49,552.68 687.11,543.74 689.83,534.49 692.67,524.9 695.64,514.95 698.74,504.61 702,493.83 705.41,482.6 709.01,470.86"/>
<polyline fill="none" stroke="#3a8f3a" stroke-width="1" stroke-dasharray="1,1.75" points="674.24,665.18 675.73,659.4 677.26,653.49 678.84,647.44 680.47,641.25 682.14,634.91 683.87,628.42 685.64,621.76 687.48,614.92 689.37,607.9 691.33,600.69 693.35,593.28 695.44,585.64 697.61,577.78 699.86,569.68 702.2,561.31 704.63,552.68 707.16,543.74 709.8,534.49 712.55,524.9 715.42,514.95 718.43,504.61 721.59,493.83 724.91,482.6 728.4,470.86"/>
<polyline fill="none" stroke="#3a8f3a" stroke-width="1" stroke-dasharray="1,1.75" points="700.68,665.18 702.1,659.4 703.56,653.49 705.06,647.44 706.61,641.25 708.2,634.91 709.84,628.42 711.53,621.76 713.28,614.92 715.09,607.9 716.96,600.69 718.89,593.28 720.89,585.64 722.97,577.78 725.12,569.68 727.36,561.31 729.69,552.68 732.11,543.74 734.64,534.49 737.28,524.9 740.03,514.95 742.93,504.61 745.96,493.83 749.15,482.6 752.51,470.86"/>
<polyline fill="none" stroke="#3a8f3a" stroke-width="1" stroke-dasharray="1,1.75" points="722.62,665.18 723.98,659.4 725.37,653.49 726.81,647.44 728.29,641.25 729.82,634.91 731.39,628.42 733.02,621.76 734.69,614.92 736.43,607.9 738.22,600.69 740.08,593.28 742,585.64 744,577.78 746.07,569.68 748.22,561.31 750.46,552.68 752.8,543.74 755.23,534.49 757.78,524.9 760.44,514.95 763.23,504.61 766.16,493.83 769.25,482.6 772.49,470.86"/>
</g>
<text x="434.58" y="468.2" text-anchor="middle" style="font-family:'Liberation Sans',sans-serif;font-size:8.6px" fill="#5e9e5e">1</text>
<text x="490.91" y="468.2" text-anchor="middle" style="font-family:'Liberation Sans',sans-serif;font-size:8.6px" fill="#5e9e5e">2</text>
<text x="551.36" y="468.2" text-anchor="middle" style="font-family:'Liberation Sans',sans-serif;font-size:8.6px" fill="#5e9e5e">4</text>
<text x="588.75" y="468.2" text-anchor="middle" style="font-family:'Liberation Sans',sans-serif;font-size:8.6px" fill="#5e9e5e">6</text>
<text x="616.23" y="468.2" text-anchor="middle" style="font-family:'Liberation Sans',sans-serif;font-size:8.6px" fill="#5e9e5e">8</text>
<text x="638.08" y="468.2" text-anchor="middle" style="font-family:'Liberation Sans',sans-serif;font-size:8.6px" fill="#5e9e5e">10</text>
<text x="664.4" y="468.2" text-anchor="middle" style="font-family:'Liberation Sans',sans-serif;font-size:8.6px" fill="#5e9e5e">13</text>
<text x="685.68" y="468.2" text-anchor="middle" style="font-family:'Liberation Sans',sans-serif;font-size:8.6px" fill="#5e9e5e">16</text>
<text x="709.01" y="468.2" text-anchor="middle" style="font-family:'Liberation Sans',sans-serif;font-size:8.6px" fill="#5e9e5e">20</text>
<text x="728.4" y="468.2" text-anchor="middle" style="font-family:'Liberation Sans',sans-serif;font-size:8.6px" fill="#5e9e5e">24</text>
<text x="752.51" y="468.2" text-anchor="middle" style="font-family:'Liberation Sans',sans-serif;font-size:8.6px" fill="#5e9e5e">30</text>
<text x="772.49" y="468.2" text-anchor="middle" style="font-family:'Liberation Sans',sans-serif;font-size:8.6px" fill="#5e9e5e">36</text>
<polyline fill="none" stroke="#0000ff" stroke-width="1.4" stroke-linejoin="round" points="488.3,49.35 466.5,107.79 461.5,155.54 437.5,195.91 388,230.89 348.5,261.73 363.5,289.33 377.5,314.29 392.5,337.08 407,358.04 420.1,377.45 430,395.52 439.4,412.42 450,428.3 460.1,443.27 466.8,457.43 473.5,470.86 480.2,483.64 486.2,495.83 493.6,507.47 498.2,518.61 502,529.31 504.2,539.58 499.7,549.46 495.4,558.99 491.7,568.18 491.2,577.06 492.2,585.64 492.2,593.96 493.5,602.02 497.8,609.84 499.6,617.43 499.8,624.81 498.4,631.98 501.5,638.97 507.4,645.77 516.2,646.9"/>
<polyline fill="none" stroke="#009900" stroke-width="3.1" stroke-linejoin="round" points="289.8,49.35 247.5,107.79 240,155.54 278.7,195.91 281.6,230.89 304.7,261.73 288.4,289.33 325,314.29 348.2,337.08 357,358.04 370.9,377.45 388,395.52 404.5,412.42 408.3,428.3 409.4,443.27 418,457.43 438.4,470.86 455.8,483.64 459.5,495.83 462.7,507.47 467.4,518.61 465.5,529.31 456,539.58 430.5,549.46 385.2,558.99 361.5,568.18 363.3,577.06 389.3,585.64 399.1,593.96 398.7,602.02 420.4,609.84 456.5,617.43 481.3,624.81 486.2,631.98 486.3,638.97 486.4,645.77 498.6,646.9"/>
<polyline fill="none" stroke="#ff0000" stroke-width="3.1" stroke-linejoin="round" points="488.9,49.35 468.7,107.79 464.2,155.54 439.3,195.91 389,230.89 349.1,261.73 364.7,289.33 378.8,314.29 394.6,337.08 410,358.04 422.9,377.45 433.6,395.52 445.4,412.42 456.1,428.3 467.4,443.27 476.8,457.43 482.8,470.86 488.2,483.64 497.8,495.83 503.5,507.47 510.4,518.61 518.8,529.31 529,539.58 535.5,549.46 539.6,558.99 538.2,568.18 535.4,577.06 533.3,585.64 533.3,593.96 533.9,602.02 533.3,609.84 525,617.43 513,624.81 507,631.98 514.2,638.97 524.3,645.77 532.8,646.9"/>
<text x="497.8" y="657.6" text-anchor="middle" textLength="22" lengthAdjust="spacingAndGlyphs" style="font-family:'Liberation Sans',sans-serif;font-size:11.8px;font-weight:bold" fill="#009900">35F</text>
<text x="531.9" y="657.6" text-anchor="middle" textLength="22" lengthAdjust="spacingAndGlyphs" style="font-family:'Liberation Sans',sans-serif;font-size:11.8px;font-weight:bold" fill="#ff0000">44F</text>
<rect x="188.5" y="49.5" width="638" height="616" fill="none" stroke="#000" stroke-width="1.1"/>
<path d="M183.5 49.5H188.5M826.5 49.5H831.5M183.5 155.5H188.5M826.5 155.5H831.5M183.5 230.5H188.5M826.5 230.5H831.5M183.5 289.5H188.5M826.5 289.5H831.5M183.5 337.5H188.5M826.5 337.5H831.5M183.5 377.5H188.5M826.5 377.5H831.5M183.5 412.5H188.5M826.5 412.5H831.5M183.5 443.5H188.5M826.5 443.5H831.5M183.5 470.5H188.5M826.5 470.5H831.5M183.5 495.5H188.5M826.5 495.5H831.5M183.5 518.5H188.5M826.5 518.5H831.5M183.5 539.5H188.5M826.5 539.5H831.5M183.5 558.5H188.5M826.5 558.5H831.5M183.5 577.5H188.5M826.5 577.5H831.5M183.5 593.5H188.5M826.5 593.5H831.5M183.5 609.5H188.5M826.5 609.5H831.5M183.5 624.5H188.5M826.5 624.5H831.5M183.5 638.5H188.5M826.5 638.5H831.5M183.5 652.5H188.5M826.5 652.5H831.5M183.5 665.5H188.5M826.5 665.5H831.5M188.5 44.5V49.5M188.5 665.5V670.5M259.5 44.5V49.5M259.5 665.5V670.5M330.5 44.5V49.5M330.5 665.5V670.5M401.5 44.5V49.5M401.5 665.5V670.5M471.5 44.5V49.5M471.5 665.5V670.5M542.5 44.5V49.5M542.5 665.5V670.5M613.5 44.5V49.5M613.5 665.5V670.5M684.5 44.5V49.5M684.5 665.5V670.5M755.5 44.5V49.5M755.5 665.5V670.5M826.5 44.5V49.5M826.5 665.5V670.5" stroke="#000" stroke-width="1.1" fill="none"/>
<text x="176.8" y="54.35" text-anchor="end" style="font-family:'Liberation Sans',sans-serif;font-size:14.2px" fill="#000">100</text>
<text x="176.8" y="235.89" text-anchor="end" style="font-family:'Liberation Sans',sans-serif;font-size:14.2px" fill="#000">200</text>
<text x="176.8" y="342.08" text-anchor="end" style="font-family:'Liberation Sans',sans-serif;font-size:14.2px" fill="#000">300</text>
<text x="176.8" y="417.42" text-anchor="end" style="font-family:'Liberation Sans',sans-serif;font-size:14.2px" fill="#000">400</text>
<text x="176.8" y="475.86" text-anchor="end" style="font-family:'Liberation Sans',sans-serif;font-size:14.2px" fill="#000">500</text>
<text x="176.8" y="523.61" text-anchor="end" style="font-family:'Liberation Sans',sans-serif;font-size:14.2px" fill="#000">600</text>
<text x="176.8" y="563.99" text-anchor="end" style="font-family:'Liberation Sans',sans-serif;font-size:14.2px" fill="#000">700</text>
<text x="176.8" y="598.96" text-anchor="end" style="font-family:'Liberation Sans',sans-serif;font-size:14.2px" fill="#000">800</text>
<text x="176.8" y="629.81" text-anchor="end" style="font-family:'Liberation Sans',sans-serif;font-size:14.2px" fill="#000">900</text>
<text x="176.8" y="657.4" text-anchor="end" style="font-family:'Liberation Sans',sans-serif;font-size:14.2px" fill="#000">1000</text>
<text x="188.3" y="684.6" text-anchor="middle" textLength="26" lengthAdjust="spacingAndGlyphs" style="font-family:'Liberation Sans',sans-serif;font-size:14.2px" fill="#000">−40</text>
<text x="259.2" y="684.6" text-anchor="middle" textLength="26" lengthAdjust="spacingAndGlyphs" style="font-family:'Liberation Sans',sans-serif;font-size:14.2px" fill="#000">−30</text>
<text x="330.1" y="684.6" text-anchor="middle" textLength="26" lengthAdjust="spacingAndGlyphs" style="font-family:'Liberation Sans',sans-serif;font-size:14.2px" fill="#000">−20</text>
<text x="401" y="684.6" text-anchor="middle" textLength="26" lengthAdjust="spacingAndGlyphs" style="font-family:'Liberation Sans',sans-serif;font-size:14.2px" fill="#000">−10</text>
<text x="471.9" y="684.6" text-anchor="middle" style="font-family:'Liberation Sans',sans-serif;font-size:14.2px" fill="#000">0</text>
<text x="542.81" y="684.6" text-anchor="middle" style="font-family:'Liberation Sans',sans-serif;font-size:14.2px" fill="#000">10</text>
<text x="613.71" y="684.6" text-anchor="middle" style="font-family:'Liberation Sans',sans-serif;font-size:14.2px" fill="#000">20</text>
<text x="684.61" y="684.6" text-anchor="middle" style="font-family:'Liberation Sans',sans-serif;font-size:14.2px" fill="#000">30</text>
<text x="755.51" y="684.6" text-anchor="middle" style="font-family:'Liberation Sans',sans-serif;font-size:14.2px" fill="#000">40</text>
<text x="826.41" y="684.6" text-anchor="middle" style="font-family:'Liberation Sans',sans-serif;font-size:14.2px" fill="#000">50</text>
<text x="507.3" y="706" text-anchor="middle" textLength="143.5" lengthAdjust="spacingAndGlyphs" style="font-family:'Liberation Sans',sans-serif;font-size:17px" fill="#000">Temperature (°C)</text>
<text transform="translate(133.5,357) rotate(-90)" x="0" y="0" text-anchor="middle" textLength="118" lengthAdjust="spacingAndGlyphs" style="font-family:'Liberation Sans',sans-serif;font-size:17px" fill="#000">Pressure (hPa)</text>
<text x="507" y="39.8" text-anchor="middle" textLength="548" lengthAdjust="spacingAndGlyphs" style="font-family:'Liberation Sans',sans-serif;font-size:14.4px;font-weight:bold" fill="#000" stroke="#000" stroke-width="0.3">HRRR Sounding at KDKB Init: 18z Feb 10 [F001] valid 19z Feb 10 2026</text>
<path d="M859.75 51.27L834.65 47.43M834.65 47.43L833.04 36.91M837.78 47.91L836.18 37.39M840.92 48.39L839.32 37.87M844.06 48.87L842.46 38.35" stroke="#000" stroke-width="1.1" fill="none" stroke-linecap="round"/>
<path d="M859.89 108.3L834.51 107.28M844.03 107.66L841.26 97.38" stroke="#000" stroke-width="1.1" fill="none" stroke-linecap="round"/><path d="M834.51 107.28L838.09 97.26L840.86 107.54Z" fill="#000" stroke="#000" stroke-width="0.6"/>
<path d="M859.87 156.43L834.53 154.66M844.03 155.32L841.57 144.96M847.2 155.54L844.74 145.19" stroke="#000" stroke-width="1.1" fill="none" stroke-linecap="round"/><path d="M834.53 154.66L838.41 144.74L840.87 155.1Z" fill="#000" stroke="#000" stroke-width="0.6"/>
<path d="M859.81 197.46L834.59 194.37M844.05 195.53L842.14 185.06M847.2 195.91L845.29 185.44M850.35 196.3L848.44 185.83M853.5 196.69L852.55 191.45" stroke="#000" stroke-width="1.1" fill="none" stroke-linecap="round"/><path d="M834.59 194.37L838.98 184.67L840.9 195.14Z" fill="#000" stroke="#000" stroke-width="0.6"/>
<path d="M859.81 232.37L834.59 229.4" stroke="#000" stroke-width="1.1" fill="none" stroke-linecap="round"/><path d="M834.59 229.4L838.93 219.68L840.89 230.15ZM842.47 230.33L846.81 220.61L848.78 231.07Z" fill="#000" stroke="#000" stroke-width="0.6"/>
<path d="M859.89 261.29L834.51 262.18" stroke="#000" stroke-width="1.1" fill="none" stroke-linecap="round"/><path d="M834.51 262.18L837.33 251.91L840.85 261.96ZM842.44 261.9L845.26 251.64L848.79 261.68Z" fill="#000" stroke="#000" stroke-width="0.6"/>
<path d="M859.9 289.33L834.5 289.33M844.03 289.33L840.85 279.17M847.2 289.33L844.03 279.17M850.38 289.33L847.2 279.17M853.55 289.33L850.38 279.17M856.73 289.33L855.14 284.25" stroke="#000" stroke-width="1.1" fill="none" stroke-linecap="round"/><path d="M834.5 289.33L837.68 279.17L840.85 289.33Z" fill="#000" stroke="#000" stroke-width="0.6"/>
<path d="M859.85 315.4L834.55 313.18M844.04 314.01L841.76 303.61M847.2 314.29L844.92 303.89M850.36 314.57L848.09 304.17M853.53 314.84L851.25 304.44M856.69 315.12L855.55 309.92" stroke="#000" stroke-width="1.1" fill="none" stroke-linecap="round"/><path d="M834.55 313.18L838.6 303.34L840.87 313.74Z" fill="#000" stroke="#000" stroke-width="0.6"/>
<path d="M859.71 339.28L834.69 334.87M844.07 336.53L842.71 325.97M847.2 337.08L845.84 326.52M850.33 337.63L848.96 327.07M853.45 338.18L852.09 327.62M856.58 338.73L855.9 333.45" stroke="#000" stroke-width="1.1" fill="none" stroke-linecap="round"/><path d="M834.69 334.87L839.58 325.42L840.95 335.98Z" fill="#000" stroke="#000" stroke-width="0.6"/>
<path d="M859.78 359.81L834.62 356.27M844.06 357.6L842.33 347.1M847.2 358.04L845.47 347.54M850.34 358.48L848.61 347.98M853.49 358.93L851.76 348.42" stroke="#000" stroke-width="1.1" fill="none" stroke-linecap="round"/><path d="M834.62 356.27L839.18 346.65L840.91 357.16Z" fill="#000" stroke="#000" stroke-width="0.6"/>
<path d="M859.86 378.42L834.54 376.48M844.03 377.21L841.65 366.83M847.2 377.45L844.81 367.08M850.37 377.69L847.98 367.32M853.53 377.94L852.34 372.75" stroke="#000" stroke-width="1.1" fill="none" stroke-linecap="round"/><path d="M834.54 376.48L838.48 366.59L840.87 376.96Z" fill="#000" stroke="#000" stroke-width="0.6"/>
<path d="M859.86 396.54L834.54 394.5M844.04 395.26L841.69 384.88M847.2 395.52L844.85 385.14M850.36 395.77L848.01 385.39M853.53 396.03L852.35 390.84" stroke="#000" stroke-width="1.1" fill="none" stroke-linecap="round"/><path d="M834.54 394.5L838.52 384.63L840.87 395.01Z" fill="#000" stroke="#000" stroke-width="0.6"/>
<path d="M859.9 412.42L834.5 412.42M844.03 412.42L840.85 402.26M847.2 412.42L844.03 402.26M850.38 412.42L847.2 402.26M853.55 412.42L851.96 407.34" stroke="#000" stroke-width="1.1" fill="none" stroke-linecap="round"/><path d="M834.5 412.42L837.68 402.26L840.85 412.42Z" fill="#000" stroke="#000" stroke-width="0.6"/>
<path d="M859.9 443.27L834.5 443.27M844.03 443.27L840.85 433.11M847.2 443.27L844.03 433.11M850.38 443.27L847.2 433.11M853.55 443.27L851.96 438.19" stroke="#000" stroke-width="1.1" fill="none" stroke-linecap="round"/><path d="M834.5 443.27L837.68 433.11L840.85 443.27Z" fill="#000" stroke="#000" stroke-width="0.6"/>
<path d="M859.89 470.42L834.51 471.31M844.03 470.97L840.5 460.93M847.2 470.86L843.67 460.82M850.37 470.75L848.61 465.73" stroke="#000" stroke-width="1.1" fill="none" stroke-linecap="round"/><path d="M834.51 471.31L837.33 461.04L840.85 471.09Z" fill="#000" stroke="#000" stroke-width="0.6"/>
<path d="M859.9 495.6L834.5 496.05M844.03 495.88L840.67 485.78M847.2 495.83L845.52 490.77" stroke="#000" stroke-width="1.1" fill="none" stroke-linecap="round"/><path d="M834.5 496.05L837.5 485.83L840.85 495.94Z" fill="#000" stroke="#000" stroke-width="0.6"/>
<path d="M859.85 517.51L834.55 519.72M844.04 518.89L839.99 509.05M847.2 518.61L845.18 513.69" stroke="#000" stroke-width="1.1" fill="none" stroke-linecap="round"/><path d="M834.55 519.72L836.83 509.32L840.87 519.17Z" fill="#000" stroke="#000" stroke-width="0.6"/>
<path d="M859.83 538.25L834.57 540.9M844.04 539.91L841.93 535.02" stroke="#000" stroke-width="1.1" fill="none" stroke-linecap="round"/><path d="M834.57 540.9L836.67 530.47L840.88 540.24Z" fill="#000" stroke="#000" stroke-width="0.6"/>
<path d="M859.9 558.99L834.5 558.99M834.5 558.99L831.33 548.83M837.68 558.99L834.5 548.83M840.85 558.99L837.68 548.83M844.03 558.99L840.85 548.83M847.2 558.99L845.61 553.91" stroke="#000" stroke-width="1.1" fill="none" stroke-linecap="round"/>
<path d="M859.74 579.04L834.66 575.07M834.66 575.07L833.11 564.54M837.79 575.57L836.25 565.03M840.93 576.06L839.38 565.53M844.06 576.56L843.29 571.29" stroke="#000" stroke-width="1.1" fill="none" stroke-linecap="round"/>
<path d="M858.05 600.56L836.35 587.36M836.35 587.36L838.91 577.03M839.06 589.01L841.63 578.68M841.77 590.66L844.34 580.33" stroke="#000" stroke-width="1.1" fill="none" stroke-linecap="round"/>
<path d="M855.97 619.02L838.43 600.65M838.43 600.65L843.58 591.34M840.62 602.95L845.77 593.64M842.81 605.25L845.39 600.59" stroke="#000" stroke-width="1.1" fill="none" stroke-linecap="round"/>
<path d="M853.47 643.02L840.93 620.94M840.93 620.94L848.19 613.16M842.5 623.7L849.76 615.92" stroke="#000" stroke-width="1.1" fill="none" stroke-linecap="round"/>
<path d="M853.1 658.14L840.9 635.86M840.9 635.86L848.29 628.2M842.43 638.65L846.12 634.81" stroke="#000" stroke-width="1.1" fill="none" stroke-linecap="round"/>
<rect x="42.9" y="63.7" width="127.3" height="96.6" rx="2.5" fill="#fff" fill-opacity="0.8" stroke="#d4d4d4" stroke-width="1"/>
<line x1="47.5" y1="72.3" x2="70.5" y2="72.3" stroke="#3f923f" stroke-width="1.05" stroke-dasharray="1.05,1.75"/>
<text x="78.6" y="76.2" textLength="79.5" lengthAdjust="spacingAndGlyphs" style="font-family:'Liberation Sans',sans-serif;font-size:11.2px" fill="#000">Sat. Mix. Ratio</text>
<line x1="47.5" y1="87.9" x2="70.5" y2="87.9" stroke="#dc9a9a" stroke-width="1"/>
<text x="78.6" y="91.8" textLength="70.5" lengthAdjust="spacingAndGlyphs" style="font-family:'Liberation Sans',sans-serif;font-size:11.2px" fill="#000">Dry Adiabats</text>
<line x1="47.5" y1="103.5" x2="70.5" y2="103.5" stroke="#a5a5e6" stroke-width="1"/>
<text x="78.6" y="107.4" textLength="86" lengthAdjust="spacingAndGlyphs" style="font-family:'Liberation Sans',sans-serif;font-size:11.2px" fill="#000">Pseudoadiabats</text>
<line x1="47.5" y1="119.1" x2="70.5" y2="119.1" stroke="#0000ff" stroke-width="1.4"/>
<text x="78.6" y="123" textLength="44" lengthAdjust="spacingAndGlyphs" style="font-family:'Liberation Sans',sans-serif;font-size:11.2px" fill="#000">Wetbulb</text>
<line x1="47.5" y1="134.7" x2="70.5" y2="134.7" stroke="#009900" stroke-width="3.1" stroke-linecap="square"/>
<text x="78.6" y="138.6" textLength="51" lengthAdjust="spacingAndGlyphs" style="font-family:'Liberation Sans',sans-serif;font-size:11.2px" fill="#000">Dewpoint</text>
<line x1="47.5" y1="150.3" x2="70.5" y2="150.3" stroke="#ff0000" stroke-width="3.1" stroke-linecap="square"/>
<text x="78.6" y="154.2" textLength="70" lengthAdjust="spacingAndGlyphs" style="font-family:'Liberation Sans',sans-serif;font-size:11.2px" fill="#000">Temperature</text>
<rect x="38.1" y="104.49" width="1.2" height="6.6" fill="#f2e31e"/>
<rect x="38.1" y="152.24" width="2.9" height="6.6" fill="#f2e31e"/>
<rect x="38.1" y="192.61" width="1.7" height="6.6" fill="#f2e31e"/>
<rect x="38.1" y="227.59" width="2.9" height="6.6" fill="#f2e31e"/>
<rect x="38.1" y="258.43" width="5.9" height="6.6" fill="#fdd52a"/>
<rect x="38.1" y="286.03" width="11" height="6.6" fill="#fcb82d"/>
<rect x="38.1" y="310.99" width="13.8" height="6.6" fill="#fbaa31"/>
<rect x="38.1" y="333.78" width="14.8" height="6.6" fill="#fba431"/>
<rect x="38.1" y="354.74" width="12.5" height="6.6" fill="#fbab31"/>
<rect x="38.1" y="374.15" width="9.6" height="6.6" fill="#fcb92d"/>
<rect x="38.1" y="392.22" width="5.8" height="6.6" fill="#fdd22a"/>
<rect x="38.1" y="409.12" width="1.4" height="6.6" fill="#f2e31e"/>
<rect x="37.1" y="425" width="1" height="6.6" fill="#7f7f7f"/>
<rect x="35.4" y="439.97" width="2.7" height="6.6" fill="#7f7f7f"/>
<rect x="35.4" y="454.13" width="2.7" height="6.6" fill="#7f7f7f"/>
<rect x="35.4" y="467.56" width="2.7" height="6.6" fill="#7f7f7f"/>
<rect x="35.4" y="480.34" width="2.7" height="6.6" fill="#7f7f7f"/>
<rect x="35.4" y="492.53" width="2.7" height="6.6" fill="#7f7f7f"/>
<rect x="36.1" y="504.17" width="2" height="6.6" fill="#7f7f7f"/>
<rect x="37.1" y="515.31" width="1" height="6.6" fill="#7f7f7f"/>
<rect x="36.5" y="526.01" width="1.6" height="6.6" fill="#7f7f7f"/>
<rect x="36" y="536.28" width="2.1" height="6.6" fill="#7f7f7f"/>
<rect x="36" y="546.16" width="2.1" height="6.6" fill="#7f7f7f"/>
<rect x="36.1" y="555.69" width="2" height="6.6" fill="#7f7f7f"/>
<rect x="36.1" y="564.88" width="2" height="6.6" fill="#7f7f7f"/>
<rect x="36.1" y="573.76" width="2" height="6.6" fill="#7f7f7f"/>
<rect x="36.1" y="582.34" width="2" height="6.6" fill="#7f7f7f"/>
<rect x="36.1" y="590.66" width="2" height="6.6" fill="#7f7f7f"/>
<rect x="35.1" y="598.72" width="3" height="6.6" fill="#7f7f7f"/>
<rect x="35.1" y="606.54" width="3" height="6.6" fill="#7f7f7f"/>
<rect x="35.1" y="614.13" width="3" height="6.6" fill="#7f7f7f"/>
<rect x="34.3" y="621.51" width="3.8" height="6.6" fill="#7f7f7f"/>
<rect x="33.1" y="628.68" width="5" height="6.6" fill="#7f7f7f"/>
<rect x="32.1" y="635.67" width="6" height="6.6" fill="#7f7f7f"/>
<rect x="33.1" y="642.47" width="5" height="6.6" fill="#7f7f7f"/>
<line x1="23.1" y1="472.4" x2="99" y2="472.4" stroke="#ff0000" stroke-width="2.6" stroke-dasharray="9.3,3.5"/>
<line x1="23.1" y1="506.5" x2="99" y2="506.5" stroke="#ff0000" stroke-width="2.6" stroke-dasharray="9.3,3.5"/>
<text x="99.5" y="467.8" text-anchor="end" style="font-family:'Liberation Sans',sans-serif;font-size:11.4px;font-weight:bold" fill="#ff0000">DGZ</text>
<text x="99.5" y="518.9" text-anchor="end" style="font-family:'Liberation Sans',sans-serif;font-size:11.4px;font-weight:bold" fill="#ff0000">DGZ</text>
<path d="M38.1 665.2V670.1M69.3 665.2V670.1M100.5 665.2V670.1" stroke="#000" stroke-width="1.1"/>
<text x="38.1" y="682.3" text-anchor="middle" style="font-family:'Liberation Sans',sans-serif;font-size:11.6px" fill="#000">0</text>
<text x="69.3" y="682.3" text-anchor="middle" style="font-family:'Liberation Sans',sans-serif;font-size:11.6px" fill="#000">−1</text>
<text x="100.5" y="682.3" text-anchor="middle" style="font-family:'Liberation Sans',sans-serif;font-size:11.6px" fill="#000">−2</text>
<text x="70" y="703.3" text-anchor="middle" textLength="93.5" lengthAdjust="spacingAndGlyphs" style="font-family:'Liberation Sans',sans-serif;font-size:14.5px" fill="#000">Omega (Pa/s)</text>
<text x="986.7" y="36.1" text-anchor="middle" textLength="193" lengthAdjust="spacingAndGlyphs" style="font-family:'Liberation Sans',sans-serif;font-size:16.5px;font-weight:bold" fill="#7a7a7a" stroke="#7a7a7a" stroke-width="0.45">TROPICALTIDBITS.COM</text>
<g clip-path="url(#ch)">
<ellipse cx="895.45" cy="137.45" rx="19.2" ry="16.75" fill="none" stroke="#a0a0a0" stroke-width="0.95" stroke-dasharray="1,1.6"/>
<ellipse cx="895.45" cy="137.45" rx="38.4" ry="33.5" fill="none" stroke="#a0a0a0" stroke-width="0.95" stroke-dasharray="1,1.6"/>
<ellipse cx="895.45" cy="137.45" rx="57.6" ry="50.25" fill="none" stroke="#a0a0a0" stroke-width="0.95" stroke-dasharray="1,1.6"/>
<ellipse cx="895.45" cy="137.45" rx="76.8" ry="67" fill="none" stroke="#a0a0a0" stroke-width="0.95" stroke-dasharray="1,1.6"/>
<ellipse cx="895.45" cy="137.45" rx="96" ry="83.75" fill="none" stroke="#a0a0a0" stroke-width="0.95" stroke-dasharray="1,1.6"/>
<ellipse cx="895.45" cy="137.45" rx="115.2" ry="100.5" fill="none" stroke="#a0a0a0" stroke-width="0.95" stroke-dasharray="1,1.6"/>
<ellipse cx="895.45" cy="137.45" rx="134.4" ry="117.25" fill="none" stroke="#a0a0a0" stroke-width="0.95" stroke-dasharray="1,1.6"/>
<ellipse cx="895.45" cy="137.45" rx="153.6" ry="134" fill="none" stroke="#a0a0a0" stroke-width="0.95" stroke-dasharray="1,1.6"/>
<ellipse cx="895.45" cy="137.45" rx="172.8" ry="150.75" fill="none" stroke="#a0a0a0" stroke-width="0.95" stroke-dasharray="1,1.6"/>
<ellipse cx="895.45" cy="137.45" rx="192" ry="167.5" fill="none" stroke="#a0a0a0" stroke-width="0.95" stroke-dasharray="1,1.6"/>
<ellipse cx="895.45" cy="137.45" rx="211.2" ry="184.25" fill="none" stroke="#a0a0a0" stroke-width="0.95" stroke-dasharray="1,1.6"/>
<path d="M876.4 137.45H1096.6M895.45 49.4V237.4" stroke="#000" stroke-width="1.0"/>
</g>
<text x="914.65" y="153.6" text-anchor="middle" style="font-family:'Liberation Sans',sans-serif;font-size:11.2px" fill="#808080">10</text>
<text x="933.85" y="153.6" text-anchor="middle" style="font-family:'Liberation Sans',sans-serif;font-size:11.2px" fill="#808080">20</text>
<text x="953.05" y="153.6" text-anchor="middle" style="font-family:'Liberation Sans',sans-serif;font-size:11.2px" fill="#808080">30</text>
<text x="972.25" y="153.6" text-anchor="middle" style="font-family:'Liberation Sans',sans-serif;font-size:11.2px" fill="#808080">40</text>
<text x="991.45" y="153.6" text-anchor="middle" style="font-family:'Liberation Sans',sans-serif;font-size:11.2px" fill="#808080">50</text>
<text x="1010.65" y="153.6" text-anchor="middle" style="font-family:'Liberation Sans',sans-serif;font-size:11.2px" fill="#808080">60</text>
<text x="1029.85" y="153.6" text-anchor="middle" style="font-family:'Liberation Sans',sans-serif;font-size:11.2px" fill="#808080">70</text>
<text x="1049.05" y="153.6" text-anchor="middle" style="font-family:'Liberation Sans',sans-serif;font-size:11.2px" fill="#808080">80</text>
<text x="1068.25" y="153.6" text-anchor="middle" style="font-family:'Liberation Sans',sans-serif;font-size:11.2px" fill="#808080">90</text>
<polyline fill="none" stroke="#ff0000" stroke-width="2.3" stroke-linejoin="round" points="906.2,155.6 911,162 918,165.8 925.7,167 938,159.5 952.2,151.4 961,145 970.3,140 982.3,136.3 991.3,129.7"/>
<polyline fill="none" stroke="#008800" stroke-width="2.3" stroke-linejoin="round" points="995.5,128.3 1003.5,124.1 1010.5,122.1 1016.4,124.4 1024.9,134.8 1038.8,131.9 1055.9,129.4"/>
<polyline fill="none" stroke="#bb33bb" stroke-width="2.3" stroke-linejoin="round" points="1065,134.4 1059.7,140.6 1059.7,148.1 1063.4,157.8 1069.8,159.7"/>
<polyline fill="none" stroke="#0000ff" stroke-width="2.3" stroke-linejoin="round" points="1077.3,155.1 1081.1,149.7 1081.6,134.2 1085.9,128.9 1087,130 1091.8,151.3"/>
<text x="925.7" y="171.2" text-anchor="middle" style="font-family:'Liberation Sans',sans-serif;font-size:12.5px;paint-order:stroke" stroke="#fff" stroke-width="4" fill="#000">1</text>
<text x="952.2" y="155.6" text-anchor="middle" style="font-family:'Liberation Sans',sans-serif;font-size:12.5px;paint-order:stroke" stroke="#fff" stroke-width="4" fill="#000">2</text>
<text x="991.3" y="133.9" text-anchor="middle" style="font-family:'Liberation Sans',sans-serif;font-size:12.5px;paint-order:stroke" stroke="#fff" stroke-width="4" fill="#000">3</text>
<text x="1061.5" y="134.7" text-anchor="middle" style="font-family:'Liberation Sans',sans-serif;font-size:12.5px;paint-order:stroke" stroke="#fff" stroke-width="4" fill="#000">6</text>
<text x="1073.6" y="162" text-anchor="middle" style="font-family:'Liberation Sans',sans-serif;font-size:12.5px;paint-order:stroke" stroke="#fff" stroke-width="4" fill="#000">9</text>
<ellipse cx="959.2" cy="124.1" rx="8.8" ry="7.8" fill="#fff" stroke="#000" stroke-width="1.5"/>
<text x="959.2" y="127.6" text-anchor="middle" textLength="10.5" lengthAdjust="spacingAndGlyphs" style="font-family:'Liberation Sans',sans-serif;font-size:10px" fill="#000">LM</text>
<ellipse cx="969.1" cy="171.8" rx="8.8" ry="7.8" fill="#fff" stroke="#000" stroke-width="1.5"/>
<text x="969.1" y="175.3" text-anchor="middle" textLength="10.5" lengthAdjust="spacingAndGlyphs" style="font-family:'Liberation Sans',sans-serif;font-size:10px" fill="#000">RM</text>
<rect x="876.4" y="49.4" width="220.2" height="188" fill="none" stroke="#000" stroke-width="1.1"/>
<text x="985.7" y="251.3" text-anchor="middle" textLength="204" lengthAdjust="spacingAndGlyphs" style="font-family:'Liberation Sans',sans-serif;font-size:11.6px" fill="#000">Hodograph (wind in kt, height in km)</text>
<text x="876.6" y="285.7" style="font-family:'Liberation Mono',monospace;font-size:13.9px;white-space:pre" xml:space="preserve" fill="#000">SRH 0-1km:      -48 </text>
<text x="1044.5" y="285.7" textLength="42" lengthAdjust="spacingAndGlyphs" style="font-family:'Liberation Sans',sans-serif;font-size:14.5px;font-style:italic" fill="#000">m<tspan dy="-6" style="font-size:10px;font-style:normal">2</tspan><tspan dy="6">s</tspan><tspan dy="-6" style="font-size:10px;font-style:normal">−2</tspan></text>
<text x="876.6" y="302.5" style="font-family:'Liberation Mono',monospace;font-size:13.9px;white-space:pre" xml:space="preserve" fill="#000">SRH 0-3km:      114 </text>
<text x="1044.5" y="302.5" textLength="42" lengthAdjust="spacingAndGlyphs" style="font-family:'Liberation Sans',sans-serif;font-size:14.5px;font-style:italic" fill="#000">m<tspan dy="-6" style="font-size:10px;font-style:normal">2</tspan><tspan dy="6">s</tspan><tspan dy="-6" style="font-size:10px;font-style:normal">−2</tspan></text>
<text x="876.6" y="321.8" style="font-family:'Liberation Mono',monospace;font-size:13.9px;white-space:pre" xml:space="preserve" fill="#000">SBCAPE:           0 J/kg</text>
<text x="876.6" y="338.4" style="font-family:'Liberation Mono',monospace;font-size:13.9px;white-space:pre" xml:space="preserve" fill="#000">MLCAPE:           0 J/kg</text>
<text x="876.6" y="356.3" style="font-family:'Liberation Mono',monospace;font-size:13.9px;white-space:pre" xml:space="preserve" fill="#000">MUCAPE:           0 J/kg</text>
<text x="876.6" y="373.8" style="font-family:'Liberation Mono',monospace;font-size:13.9px;white-space:pre" xml:space="preserve" fill="#000">SBCIN:            0 J/kg</text>
<text x="876.6" y="391.4" style="font-family:'Liberation Mono',monospace;font-size:13.9px;white-space:pre" xml:space="preserve" fill="#000">MLCIN:            0 J/kg</text>
<text x="876.6" y="409.1" style="font-family:'Liberation Mono',monospace;font-size:13.9px;white-space:pre" xml:space="preserve" fill="#3333cc">DCAPE:           21 J/kg</text>
<text x="876.6" y="426.9" style="font-family:'Liberation Mono',monospace;font-size:13.9px;white-space:pre" xml:space="preserve" fill="#aa3333">SHR 200-850mb:   85 kt</text>
<text x="876.6" y="443.6" style="font-family:'Liberation Mono',monospace;font-size:13.9px;white-space:pre" xml:space="preserve" fill="#996611">RH 300-850mb:    43 %</text>
<text x="876.6" y="461.4" style="font-family:'Liberation Mono',monospace;font-size:13.9px;white-space:pre" xml:space="preserve" fill="#000">PWAT:          0.39 in</text>
<rect x="892.6" y="500.7" width="204" height="164.4" fill="none" stroke="#000" stroke-width="1.1"/>
<text x="922" y="526.72" text-anchor="end" style="font-family:'Liberation Sans',sans-serif;font-size:11.6px" fill="#000">400</text>
<text x="922" y="570.56" text-anchor="end" style="font-family:'Liberation Sans',sans-serif;font-size:11.6px" fill="#000">600</text>
<text x="922" y="614.4" text-anchor="end" style="font-family:'Liberation Sans',sans-serif;font-size:11.6px" fill="#000">800</text>
<text x="935.7" y="656" text-anchor="middle" style="font-family:'Liberation Sans',sans-serif;font-size:11.6px" fill="#000">290</text>
<text x="979.8" y="656" text-anchor="middle" style="font-family:'Liberation Sans',sans-serif;font-size:11.6px" fill="#000">300</text>
<text x="1023.9" y="656" text-anchor="middle" style="font-family:'Liberation Sans',sans-serif;font-size:11.6px" fill="#000">310</text>
<text x="1068" y="656" text-anchor="middle" style="font-family:'Liberation Sans',sans-serif;font-size:11.6px" fill="#000">320</text>
<path d="M892.6 522.62H897.5M892.6 566.46H897.5M892.6 610.3H897.5M892.6 654.14H897.5M935.7 665.1V660.2M979.8 665.1V660.2M1023.9 665.1V660.2M1068 665.1V660.2" stroke="#000" stroke-width="1.1"/>
<polyline fill="none" stroke="#3399b5" stroke-width="2.8" stroke-linejoin="round" points="1080.6,500.7 1063.2,516.7 1045.8,538.1 1031.1,558.2 1020.4,576.1 1008.4,582.2 993.7,588.4 976.3,598.3 964.3,607.6 956.3,615.1 954.1,619.7 954.1,626.4 948.2,630.4 941.6,635.7 940.2,642.4 941.6,647.8 953,649.9"/>
<text x="993.7" y="678.4" text-anchor="middle" textLength="176.5" lengthAdjust="spacingAndGlyphs" style="font-family:'Liberation Sans',sans-serif;font-size:11.6px" fill="#000">Equivalent Pot. Temperature (K)</text>
<text transform="translate(884.6,582.2) rotate(-90)" text-anchor="middle" style="font-family:'Liberation Sans',sans-serif;font-size:11.6px" fill="#000">Pressure (hPa)</text>
</svg>
<div id="bt"></div><div id="bl"></div><div id="bt2"></div><div id="bl2"></div><div id="br"></div><div id="bb"></div>
</div></body></html>
